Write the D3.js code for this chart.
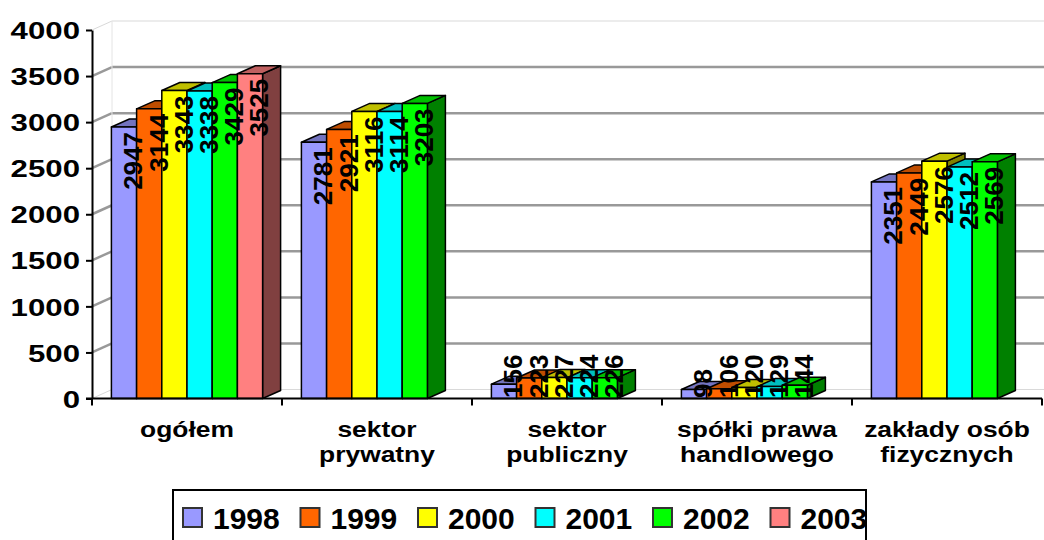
<!DOCTYPE html>
<html>
<head>
<meta charset="utf-8">
<script src="https://cdn.jsdelivr.net/npm/d3@7"></script>
<style>
body { margin: 0; background: #fff; }
svg text { font-family: "Liberation Sans", Arial, sans-serif; font-weight: bold; fill: #000; }
</style>
</head>
<body>
<svg id="chart" width="1044" height="540"></svg>
<script>
const categories = ['ogółem', 'sektor\nprywatny', 'sektor\npubliczny', 'spółki prawa\nhandlowego', 'zakłady osób\nfizycznych'];
const years = ['1998', '1999', '2000', '2001', '2002', '2003'];

const v1998 = [2947, 2781, 156, 98, 2351];
const v1999 = [3144, 2921, 223, 106, 2449];
const v2000 = [3343, 3116, 227, 120, 2576];
const v2001 = [3338, 3114, 224, 129, 2512];
const v2002 = [3429, 3203, 226, 144, 2569];
const v2003 = [3525, null, null, null, null];

const yTicks = [0, 500, 1000, 1500, 2000, 2500, 3000, 3500, 4000];
const colors = ['#9999ff', '#ff6600', '#ffff00', '#00ffff', '#00ff00', '#ff8080'];

const series = [v1998, v1999, v2000, v2001, v2002, v2003];

const svg = d3.select('#chart');

const x0 = d3.scaleBand().domain(categories).range([92, 1042]);
const x1 = d3.scaleBand().domain(years).range([0, x0.bandwidth()])
  .paddingInner(0).paddingOuter(0.77);
const y = d3.scaleLinear().domain([0, 4000]).range([398.5, 30]);

// depth offsets for the 3d look
const wall = { dx: 20, dy: -9 };
const depth = { dx: 18, dy: -8 };

const shade = (c, k) => {
  let r = d3.rgb(c);
  return d3.rgb(r.r * k, r.g * k, r.b * k).formatHex();
}

// back wall + side wall gridlines
let grid = svg.append('g');
yTicks.forEach(v => {
  let faint = (v == 0 || v == 4000);
  let stroke = faint ? '#d9d9d9' : '#999999';
  let sw = faint ? 1 : 2.5;
  grid.append('line')
    .attr('x1', 92).attr('y1', y(v))
    .attr('x2', 92 + wall.dx).attr('y2', y(v) + wall.dy)
    .attr('stroke', stroke).attr('stroke-width', sw);
  grid.append('line')
    .attr('x1', 92 + wall.dx).attr('y1', y(v) + wall.dy)
    .attr('x2', 1044).attr('y2', y(v) + wall.dy)
    .attr('stroke', stroke).attr('stroke-width', sw);
})
// left edge of back wall
grid.append('line')
  .attr('x1', 92 + wall.dx).attr('y1', y(0) + wall.dy)
  .attr('x2', 92 + wall.dx).attr('y2', y(4000) + wall.dy)
  .attr('stroke', '#e4e4e4').attr('stroke-width', 1);

// bars
let bars = svg.append('g');
categories.forEach((cat, i) => {
  years.forEach((yr, j) => {
    let v = series[j][i];
    if (v == null) return;
    let xl = x0(cat) + x1(yr);
    let w = x1.bandwidth();
    let yt = y(v), yb = y(0);
    let g = bars.append('g')
      .attr('stroke', '#000').attr('stroke-width', 1.5).attr('stroke-linejoin', 'round');
    g.append('path')
      .attr('d', `M${xl + w},${yt}L${xl + w + depth.dx},${yt + depth.dy}L${xl + w + depth.dx},${yb + depth.dy}L${xl + w},${yb}Z`)
      .attr('fill', shade(colors[j], 0.5));
    g.append('path')
      .attr('d', `M${xl},${yt}L${xl + depth.dx},${yt + depth.dy}L${xl + w + depth.dx},${yt + depth.dy}L${xl + w},${yt}Z`)
      .attr('fill', shade(colors[j], 0.75));
    g.append('rect')
      .attr('x', xl).attr('y', yt)
      .attr('width', w).attr('height', yb - yt)
      .attr('fill', colors[j]);
  })
})

// value axis
let yAxis = svg.append('g')
  .attr('transform', 'translate(92,0)')
  .call(d3.axisLeft(y).tickValues(yTicks).tickFormat(d3.format('d')).tickSize(6).tickSizeOuter(0));
yAxis.select('.domain').attr('stroke', '#000').attr('stroke-width', 2);
yAxis.selectAll('.tick line').attr('stroke', '#000').attr('stroke-width', 2);
yAxis.selectAll('.tick text')
  .attr('font-size', 24)
  .attr('font-family', '"Liberation Sans", Arial, sans-serif')
  .attr('font-weight', 'bold')
  .attr('fill', '#000')
  .attr('x', -12 / 1.3)
  .attr('dy', '0.36em')
  .attr('transform', 'scale(1.3,1)');

// category axis
let xAxis = svg.append('g');
xAxis.append('line')
  .attr('x1', 86).attr('x2', 1042)
  .attr('y1', y(0)).attr('y2', y(0))
  .attr('stroke', '#000').attr('stroke-width', 2);
categories.concat([null]).forEach((cat, i) => {
  let xt = cat == null ? x0.range()[1] : x0(cat);
  xAxis.append('line')
    .attr('x1', xt).attr('x2', xt)
    .attr('y1', y(0)).attr('y2', y(0) + 7)
    .attr('stroke', '#000').attr('stroke-width', 2);
})

categories.forEach(cat => {
  let cx = x0(cat) + x0.bandwidth() / 2;
  let t = xAxis.append('text')
    .attr('text-anchor', 'middle')
    .attr('font-size', 22)
    .attr('transform', `translate(${cx},437) scale(1.2,1)`);
  cat.split('\n').forEach((line, k) => {
    t.append('tspan').attr('x', 0).attr('y', k * 25).text(line);
  })
})

// data labels, kept inside the plot like excel does
let labels = svg.append('g');
categories.forEach((cat, i) => {
  years.forEach((yr, j) => {
    let v = series[j][i];
    if (v == null) return;
    let xc = x0(cat) + x1(yr) + x1.bandwidth() / 2 + 9;
    let t = labels.append('text')
      .attr('font-size', 26)
      .attr('dy', '0.36em')
      .text(v);
    let len = t.node().getComputedTextLength();
    let bottom = Math.min(398, y(v) + 5 + len);
    t.attr('transform', `translate(${xc},${bottom}) rotate(-90)`);
  })
})

// legend
let legend = svg.append('g');
legend.append('rect')
  .attr('x', 173).attr('y', 490)
  .attr('width', 693).attr('height', 60)
  .attr('fill', '#fff').attr('stroke', '#000').attr('stroke-width', 2);
years.forEach((yr, j) => {
  let lx = 183 + j * 117.5;
  legend.append('rect')
    .attr('x', lx).attr('y', 508)
    .attr('width', 19).attr('height', 19)
    .attr('fill', colors[j]).attr('stroke', '#333').attr('stroke-width', 2);
  legend.append('text')
    .attr('x', lx + 30).attr('y', 529)
    .attr('font-size', 30)
    .text(yr);
})
</script>
</body>
</html>
